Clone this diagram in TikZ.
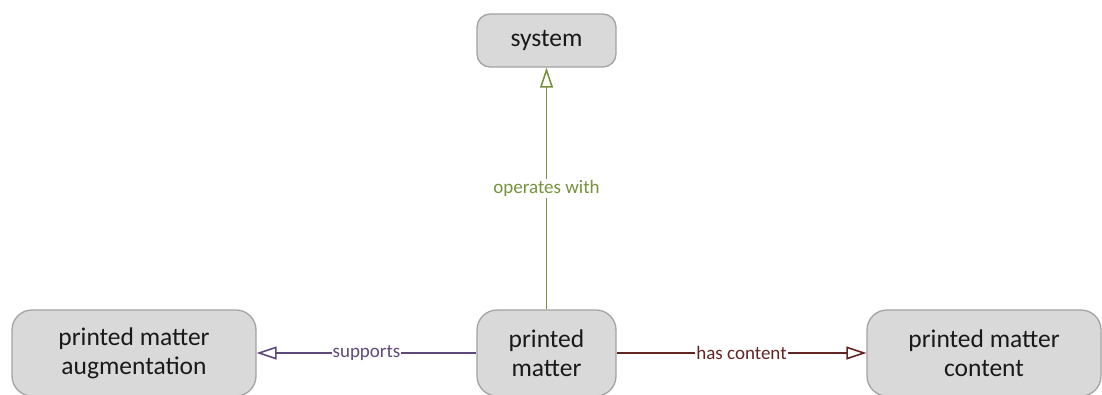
\documentclass[tikz,border=0pt]{standalone}
\usepackage{fontspec}
\setmainfont{Carlito}
\usetikzlibrary{arrows.meta}

\definecolor{boxfill}{HTML}{D9D9D9}
\definecolor{boxline}{HTML}{A3A3A3}
\definecolor{opcol}{HTML}{76923C}
\definecolor{supcol}{HTML}{5F497A}
\definecolor{hascol}{HTML}{632523}

\tikzset{
  concept/.style={draw=boxline, fill=boxfill, line width=1.3pt, align=center,
    text=black!90, font=\fontsize{25.5}{29}\selectfont, inner sep=0pt},
  relation/.style={line width=1.6pt, -{Triangle[open, length=20pt, width=13pt, line width=1.6pt]}},
  rlabel/.style={fill=white, inner sep=1pt, font=\fontsize{19}{22}\selectfont}
}

\begin{document}
\begin{tikzpicture}[x=1pt, y=-1pt]
  \useasboundingbox (0,0) rectangle (1102,394);

  \node[concept, rounded corners=13pt, minimum width=139pt, minimum height=53pt] (sys) at (546.5,40.5) {system};
  \node[concept, rounded corners=20pt, minimum width=139pt, minimum height=86pt] (pm) at (546.5,353) {printed\\matter};
  \node[concept, rounded corners=20pt, minimum width=244pt, minimum height=86pt] (aug) at (134,353) {printed matter\\augmentation};
  \node[concept, rounded corners=20pt, minimum width=234pt, minimum height=86pt] (cont) at (984,353) {printed matter\\content};

  \draw[relation, opcol] (pm.north) -- node[rlabel, text=opcol] {operates with} (sys.south);
  \draw[relation, supcol] (pm.west) -- node[rlabel, text=supcol] {supports} (aug.east);
  \draw[relation, hascol] (pm.east) -- node[rlabel, text=hascol] {has content} (cont.west);
\end{tikzpicture}
\end{document}
